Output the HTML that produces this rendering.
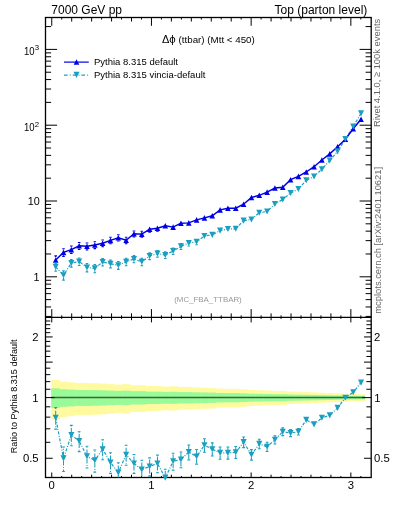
<!DOCTYPE html>
<html><head><meta charset="utf-8"><style>
html,body{margin:0;padding:0;background:#fff;width:393px;height:512px;overflow:hidden}
svg{display:block;will-change:transform}
text{font-family:"Liberation Sans",sans-serif}
</style></head><body>
<svg width="393" height="512" viewBox="0 0 393 512">
<defs><clipPath id="cu"><rect x="45.5" y="17.5" width="325.7" height="299.9"/></clipPath>
<clipPath id="cl"><rect x="45.5" y="317.4" width="325.7" height="160.1"/></clipPath></defs>
<rect x="51.2" y="379.99" width="8.68" height="39.68" fill="#fffaa0"/>
<rect x="59.58" y="381.71" width="8.13" height="35.32" fill="#fffaa0"/>
<rect x="67.41" y="382.3" width="8.13" height="33.85" fill="#fffaa0"/>
<rect x="75.24" y="383.07" width="8.13" height="31.96" fill="#fffaa0"/>
<rect x="83.07" y="382.97" width="8.13" height="32.2" fill="#fffaa0"/>
<rect x="90.9" y="383.23" width="8.13" height="31.58" fill="#fffaa0"/>
<rect x="98.73" y="383.58" width="8.13" height="30.73" fill="#fffaa0"/>
<rect x="106.56" y="384.1" width="8.13" height="29.47" fill="#fffaa0"/>
<rect x="114.39" y="384.57" width="8.13" height="28.35" fill="#fffaa0"/>
<rect x="122.22" y="384.12" width="8.13" height="29.42" fill="#fffaa0"/>
<rect x="130.05" y="385.26" width="8.13" height="26.71" fill="#fffaa0"/>
<rect x="137.88" y="385.21" width="8.13" height="26.83" fill="#fffaa0"/>
<rect x="145.72" y="385.99" width="8.13" height="25" fill="#fffaa0"/>
<rect x="153.55" y="386.15" width="8.13" height="24.63" fill="#fffaa0"/>
<rect x="161.38" y="386.54" width="8.13" height="23.71" fill="#fffaa0"/>
<rect x="169.21" y="386.33" width="8.13" height="24.2" fill="#fffaa0"/>
<rect x="177.04" y="386.91" width="8.13" height="22.87" fill="#fffaa0"/>
<rect x="184.87" y="386.95" width="8.13" height="22.77" fill="#fffaa0"/>
<rect x="192.7" y="387.38" width="8.13" height="21.8" fill="#fffaa0"/>
<rect x="200.53" y="387.65" width="8.13" height="21.18" fill="#fffaa0"/>
<rect x="208.36" y="387.93" width="8.13" height="20.55" fill="#fffaa0"/>
<rect x="216.19" y="388.66" width="8.13" height="18.9" fill="#fffaa0"/>
<rect x="224.02" y="388.86" width="8.13" height="18.45" fill="#fffaa0"/>
<rect x="231.85" y="388.86" width="8.13" height="18.45" fill="#fffaa0"/>
<rect x="239.68" y="389.31" width="8.13" height="17.45" fill="#fffaa0"/>
<rect x="247.51" y="390" width="8.13" height="15.92" fill="#fffaa0"/>
<rect x="255.34" y="390.21" width="8.13" height="15.45" fill="#fffaa0"/>
<rect x="263.17" y="390.51" width="8.13" height="14.8" fill="#fffaa0"/>
<rect x="271" y="390.87" width="8.13" height="14.02" fill="#fffaa0"/>
<rect x="278.83" y="390.94" width="8.13" height="13.88" fill="#fffaa0"/>
<rect x="286.66" y="391.52" width="8.13" height="12.61" fill="#fffaa0"/>
<rect x="294.49" y="391.76" width="8.13" height="12.1" fill="#fffaa0"/>
<rect x="302.32" y="392.05" width="8.13" height="11.47" fill="#fffaa0"/>
<rect x="310.15" y="392.38" width="8.13" height="10.77" fill="#fffaa0"/>
<rect x="317.98" y="392.75" width="8.13" height="9.99" fill="#fffaa0"/>
<rect x="325.81" y="393.05" width="8.13" height="9.36" fill="#fffaa0"/>
<rect x="333.65" y="393.35" width="8.13" height="8.71" fill="#fffaa0"/>
<rect x="341.48" y="393.63" width="8.13" height="8.13" fill="#fffaa0"/>
<rect x="349.31" y="393.95" width="8.13" height="7.45" fill="#fffaa0"/>
<rect x="357.14" y="394.19" width="8.13" height="6.97" fill="#fffaa0"/>
<rect x="51.2" y="388.36" width="8.68" height="19.58" fill="#98fa98"/>
<rect x="59.58" y="389.3" width="8.13" height="17.47" fill="#98fa98"/>
<rect x="67.41" y="389.62" width="8.13" height="16.76" fill="#98fa98"/>
<rect x="75.24" y="390.04" width="8.13" height="15.84" fill="#98fa98"/>
<rect x="83.07" y="389.99" width="8.13" height="15.95" fill="#98fa98"/>
<rect x="90.9" y="390.12" width="8.13" height="15.65" fill="#98fa98"/>
<rect x="98.73" y="390.31" width="8.13" height="15.24" fill="#98fa98"/>
<rect x="106.56" y="390.59" width="8.13" height="14.62" fill="#98fa98"/>
<rect x="114.39" y="390.85" width="8.13" height="14.07" fill="#98fa98"/>
<rect x="122.22" y="390.6" width="8.13" height="14.6" fill="#98fa98"/>
<rect x="130.05" y="391.22" width="8.13" height="13.27" fill="#98fa98"/>
<rect x="137.88" y="391.19" width="8.13" height="13.33" fill="#98fa98"/>
<rect x="145.72" y="391.61" width="8.13" height="12.43" fill="#98fa98"/>
<rect x="153.55" y="391.69" width="8.13" height="12.25" fill="#98fa98"/>
<rect x="161.38" y="391.9" width="8.13" height="11.79" fill="#98fa98"/>
<rect x="169.21" y="391.79" width="8.13" height="12.04" fill="#98fa98"/>
<rect x="177.04" y="392.1" width="8.13" height="11.38" fill="#98fa98"/>
<rect x="184.87" y="392.12" width="8.13" height="11.33" fill="#98fa98"/>
<rect x="192.7" y="392.34" width="8.13" height="10.85" fill="#98fa98"/>
<rect x="200.53" y="392.49" width="8.13" height="10.54" fill="#98fa98"/>
<rect x="208.36" y="392.63" width="8.13" height="10.23" fill="#98fa98"/>
<rect x="216.19" y="393.02" width="8.13" height="9.42" fill="#98fa98"/>
<rect x="224.02" y="393.12" width="8.13" height="9.2" fill="#98fa98"/>
<rect x="231.85" y="393.12" width="8.13" height="9.2" fill="#98fa98"/>
<rect x="239.68" y="393.36" width="8.13" height="8.7" fill="#98fa98"/>
<rect x="247.51" y="393.72" width="8.13" height="7.94" fill="#98fa98"/>
<rect x="255.34" y="393.83" width="8.13" height="7.71" fill="#98fa98"/>
<rect x="263.17" y="393.99" width="8.13" height="7.38" fill="#98fa98"/>
<rect x="271" y="394.17" width="8.13" height="7" fill="#98fa98"/>
<rect x="278.83" y="394.21" width="8.13" height="6.92" fill="#98fa98"/>
<rect x="286.66" y="394.51" width="8.13" height="6.29" fill="#98fa98"/>
<rect x="294.49" y="394.63" width="8.13" height="6.04" fill="#98fa98"/>
<rect x="302.32" y="394.78" width="8.13" height="5.72" fill="#98fa98"/>
<rect x="310.15" y="394.95" width="8.13" height="5.38" fill="#98fa98"/>
<rect x="317.98" y="395.14" width="8.13" height="4.99" fill="#98fa98"/>
<rect x="325.81" y="395.3" width="8.13" height="4.67" fill="#98fa98"/>
<rect x="333.65" y="395.45" width="8.13" height="4.35" fill="#98fa98"/>
<rect x="341.48" y="395.59" width="8.13" height="4.06" fill="#98fa98"/>
<rect x="349.31" y="395.76" width="8.13" height="3.72" fill="#98fa98"/>
<rect x="357.14" y="395.88" width="8.13" height="3.48" fill="#98fa98"/>
<line x1="51.2" y1="397.6" x2="364.97" y2="397.6" stroke="#3b653b" stroke-width="1.5"/>
<rect x="45.5" y="17.5" width="325.7" height="460" fill="none" stroke="#000" stroke-width="1.3"/>
<line x1="45.5" y1="317.4" x2="371.2" y2="317.4" stroke="#000" stroke-width="1.3"/>
<path d="M51.75 17.5L51.75 25.8M51.75 317.4L51.75 309.1M51.75 317.4L51.75 322.4M51.75 477.5L51.75 472.5M61.72 17.5L61.72 19.5M61.72 317.4L61.72 315.4M61.72 317.4L61.72 318.9M61.72 477.5L61.72 476M71.69 17.5L71.69 21.5M71.69 317.4L71.69 313.4M71.69 317.4L71.69 320.2M71.69 477.5L71.69 474.7M81.66 17.5L81.66 19.5M81.66 317.4L81.66 315.4M81.66 317.4L81.66 318.9M81.66 477.5L81.66 476M91.63 17.5L91.63 21.5M91.63 317.4L91.63 313.4M91.63 317.4L91.63 320.2M91.63 477.5L91.63 474.7M101.6 17.5L101.6 19.5M101.6 317.4L101.6 315.4M101.6 317.4L101.6 318.9M101.6 477.5L101.6 476M111.57 17.5L111.57 21.5M111.57 317.4L111.57 313.4M111.57 317.4L111.57 320.2M111.57 477.5L111.57 474.7M121.54 17.5L121.54 19.5M121.54 317.4L121.54 315.4M121.54 317.4L121.54 318.9M121.54 477.5L121.54 476M131.51 17.5L131.51 21.5M131.51 317.4L131.51 313.4M131.51 317.4L131.51 320.2M131.51 477.5L131.51 474.7M141.48 17.5L141.48 19.5M141.48 317.4L141.48 315.4M141.48 317.4L141.48 318.9M141.48 477.5L141.48 476M151.45 17.5L151.45 25.8M151.45 317.4L151.45 309.1M151.45 317.4L151.45 322.4M151.45 477.5L151.45 472.5M161.42 17.5L161.42 19.5M161.42 317.4L161.42 315.4M161.42 317.4L161.42 318.9M161.42 477.5L161.42 476M171.39 17.5L171.39 21.5M171.39 317.4L171.39 313.4M171.39 317.4L171.39 320.2M171.39 477.5L171.39 474.7M181.36 17.5L181.36 19.5M181.36 317.4L181.36 315.4M181.36 317.4L181.36 318.9M181.36 477.5L181.36 476M191.33 17.5L191.33 21.5M191.33 317.4L191.33 313.4M191.33 317.4L191.33 320.2M191.33 477.5L191.33 474.7M201.3 17.5L201.3 19.5M201.3 317.4L201.3 315.4M201.3 317.4L201.3 318.9M201.3 477.5L201.3 476M211.27 17.5L211.27 21.5M211.27 317.4L211.27 313.4M211.27 317.4L211.27 320.2M211.27 477.5L211.27 474.7M221.24 17.5L221.24 19.5M221.24 317.4L221.24 315.4M221.24 317.4L221.24 318.9M221.24 477.5L221.24 476M231.21 17.5L231.21 21.5M231.21 317.4L231.21 313.4M231.21 317.4L231.21 320.2M231.21 477.5L231.21 474.7M241.18 17.5L241.18 19.5M241.18 317.4L241.18 315.4M241.18 317.4L241.18 318.9M241.18 477.5L241.18 476M251.15 17.5L251.15 25.8M251.15 317.4L251.15 309.1M251.15 317.4L251.15 322.4M251.15 477.5L251.15 472.5M261.12 17.5L261.12 19.5M261.12 317.4L261.12 315.4M261.12 317.4L261.12 318.9M261.12 477.5L261.12 476M271.09 17.5L271.09 21.5M271.09 317.4L271.09 313.4M271.09 317.4L271.09 320.2M271.09 477.5L271.09 474.7M281.06 17.5L281.06 19.5M281.06 317.4L281.06 315.4M281.06 317.4L281.06 318.9M281.06 477.5L281.06 476M291.03 17.5L291.03 21.5M291.03 317.4L291.03 313.4M291.03 317.4L291.03 320.2M291.03 477.5L291.03 474.7M301 17.5L301 19.5M301 317.4L301 315.4M301 317.4L301 318.9M301 477.5L301 476M310.97 17.5L310.97 21.5M310.97 317.4L310.97 313.4M310.97 317.4L310.97 320.2M310.97 477.5L310.97 474.7M320.94 17.5L320.94 19.5M320.94 317.4L320.94 315.4M320.94 317.4L320.94 318.9M320.94 477.5L320.94 476M330.91 17.5L330.91 21.5M330.91 317.4L330.91 313.4M330.91 317.4L330.91 320.2M330.91 477.5L330.91 474.7M340.88 17.5L340.88 19.5M340.88 317.4L340.88 315.4M340.88 317.4L340.88 318.9M340.88 477.5L340.88 476M350.85 17.5L350.85 25.8M350.85 317.4L350.85 309.1M350.85 317.4L350.85 322.4M350.85 477.5L350.85 472.5M360.82 17.5L360.82 19.5M360.82 317.4L360.82 315.4M360.82 317.4L360.82 318.9M360.82 477.5L360.82 476M45.5 316.43L51.1 316.43M371.2 316.43L365.6 316.43M45.5 306.96L51.1 306.96M371.2 306.96L365.6 306.96M45.5 299.62L51.1 299.62M371.2 299.62L365.6 299.62M45.5 293.62L51.1 293.62M371.2 293.62L365.6 293.62M45.5 288.54L51.1 288.54M371.2 288.54L365.6 288.54M45.5 284.15L51.1 284.15M371.2 284.15L365.6 284.15M45.5 280.27L51.1 280.27M371.2 280.27L365.6 280.27M45.5 276.8L57.1 276.8M371.2 276.8L359.6 276.8M45.5 253.98L51.1 253.98M371.2 253.98L365.6 253.98M45.5 240.63L51.1 240.63M371.2 240.63L365.6 240.63M45.5 231.16L51.1 231.16M371.2 231.16L365.6 231.16M45.5 223.82L51.1 223.82M371.2 223.82L365.6 223.82M45.5 217.82L51.1 217.82M371.2 217.82L365.6 217.82M45.5 212.74L51.1 212.74M371.2 212.74L365.6 212.74M45.5 208.35L51.1 208.35M371.2 208.35L365.6 208.35M45.5 204.47L51.1 204.47M371.2 204.47L365.6 204.47M45.5 201L57.1 201M371.2 201L359.6 201M45.5 178.18L51.1 178.18M371.2 178.18L365.6 178.18M45.5 164.83L51.1 164.83M371.2 164.83L365.6 164.83M45.5 155.36L51.1 155.36M371.2 155.36L365.6 155.36M45.5 148.02L51.1 148.02M371.2 148.02L365.6 148.02M45.5 142.02L51.1 142.02M371.2 142.02L365.6 142.02M45.5 136.94L51.1 136.94M371.2 136.94L365.6 136.94M45.5 132.55L51.1 132.55M371.2 132.55L365.6 132.55M45.5 128.67L51.1 128.67M371.2 128.67L365.6 128.67M45.5 125.2L57.1 125.2M371.2 125.2L359.6 125.2M45.5 102.38L51.1 102.38M371.2 102.38L365.6 102.38M45.5 89.03L51.1 89.03M371.2 89.03L365.6 89.03M45.5 79.56L51.1 79.56M371.2 79.56L365.6 79.56M45.5 72.22L51.1 72.22M371.2 72.22L365.6 72.22M45.5 66.22L51.1 66.22M371.2 66.22L365.6 66.22M45.5 61.14L51.1 61.14M371.2 61.14L365.6 61.14M45.5 56.75L51.1 56.75M371.2 56.75L365.6 56.75M45.5 52.87L51.1 52.87M371.2 52.87L365.6 52.87M45.5 49.4L57.1 49.4M371.2 49.4L359.6 49.4M45.5 26.58L51.1 26.58M371.2 26.58L365.6 26.58M45.5 458.26L52.7 458.26M371.2 458.26L364 458.26M45.5 442.3L50.3 442.3M371.2 442.3L366.4 442.3M45.5 428.81L50.3 428.81M371.2 428.81L366.4 428.81M45.5 417.13L50.3 417.13M371.2 417.13L366.4 417.13M45.5 406.82L50.3 406.82M371.2 406.82L366.4 406.82M45.5 397.6L54.5 397.6M371.2 397.6L362.2 397.6M45.5 389.26L50.3 389.26M371.2 389.26L366.4 389.26M45.5 381.64L50.3 381.64M371.2 381.64L366.4 381.64M45.5 374.64L50.3 374.64M371.2 374.64L366.4 374.64M45.5 368.16L50.3 368.16M371.2 368.16L366.4 368.16M45.5 362.12L52.7 362.12M371.2 362.12L364 362.12M45.5 356.47L50.3 356.47M371.2 356.47L366.4 356.47M45.5 351.16L50.3 351.16M371.2 351.16L366.4 351.16M45.5 346.16L50.3 346.16M371.2 346.16L366.4 346.16M45.5 341.43L50.3 341.43M371.2 341.43L366.4 341.43M45.5 336.94L52.7 336.94M371.2 336.94L364 336.94M45.5 332.67L50.3 332.67M371.2 332.67L366.4 332.67M45.5 328.6L50.3 328.6M371.2 328.6L366.4 328.6M45.5 324.71L50.3 324.71M371.2 324.71L366.4 324.71M45.5 320.99L50.3 320.99M371.2 320.99L366.4 320.99" stroke="#000" stroke-width="1" fill="none"/>
<polyline points="55.67,266.9 63.5,275.2 71.33,263.1 79.16,261.6 86.99,267.5 94.82,268.4 102.65,262 110.48,263.8 118.31,265.2 126.14,261.8 133.97,259 141.8,261.8 149.63,256 157.46,253.6 165.29,255 173.12,251 180.95,246.4 188.78,243 196.61,241.8 204.44,236 212.27,234.9 220.1,230.6 227.93,229 235.76,228.7 243.6,220.6 251.43,219.5 259.26,212.7 267.09,211.5 274.92,204 282.75,199.5 290.58,193 298.41,189 306.24,180.3 314.07,176.5 321.9,169.2 329.73,160.5 337.56,151.4 345.39,139.1 353.22,126.5 361.05,113.4" fill="none" stroke="#1a9fc0" stroke-width="1.2" stroke-dasharray="3 1.5 1 1.5"/>
<polyline points="55.67,260 63.5,252.4 71.33,249.6 79.16,245.8 86.99,246.3 94.82,245 102.65,243.2 110.48,240.4 118.31,237.8 126.14,240.3 133.97,233.8 141.8,234.1 149.63,229.3 157.46,228.3 165.29,225.7 173.12,227.1 180.95,223.2 188.78,222.9 196.61,219.9 204.44,217.9 212.27,215.8 220.1,209.9 227.93,208.2 235.76,208.2 243.6,204.2 251.43,197.5 259.26,195.3 267.09,192.1 274.92,188 282.75,187.2 290.58,179.7 298.41,176.4 306.24,172 314.07,166.7 321.9,160 329.73,153.9 337.56,146.8 345.39,139.3 353.22,128.8 361.05,119.3" fill="none" stroke="#0000e6" stroke-width="1.45"/>
<path d="M55.67 255.9V257.2M54.37 255.9H56.97M55.67 262.8V264.68M54.37 264.68H56.97M63.5 248.72V249.6M62.2 248.72H64.8M63.5 255.2V256.54M62.2 256.54H64.8M71.33 246.07V246.8M70.03 246.07H72.63M71.33 252.4V253.56M70.03 253.56H72.63M79.16 242.46V243M77.86 242.46H80.46M79.16 248.6V249.52M77.86 249.52H80.46M86.99 242.93V243.5M85.69 242.93H88.29M86.99 249.1V250.05M85.69 250.05H88.29M94.82 241.69V242.2M93.52 241.69H96.12M94.82 247.8V248.67M93.52 248.67H96.12M102.65 239.98V240.4M101.35 239.98H103.95M102.65 246V246.77M101.35 246.77H103.95M110.48 237.31V237.6M109.18 237.31H111.78M110.48 243.2V243.81M109.18 243.81H111.78M118.31 234.82V235M117.01 234.82H119.61M118.31 240.6V241.07M117.01 241.07H119.61M126.14 237.21V237.5M124.84 237.21H127.44M126.14 243.1V243.71M124.84 243.71H127.44M133.97 230.99V231M132.67 230.99H135.27M133.97 236.6V236.87M132.67 236.87H135.27M141.8 231.28V231.3M140.5 231.28H143.1M141.8 236.9V237.19M140.5 237.19H143.1M149.63 232.1V232.16M148.33 232.16H150.93M157.46 231.1V231.12M156.16 231.12H158.76" stroke="#0000e6" stroke-width="1.1" fill="none"/>
<path d="M55.67 257.2L58.47 262.8L52.87 262.8ZM63.5 249.6L66.3 255.2L60.7 255.2ZM71.33 246.8L74.13 252.4L68.53 252.4ZM79.16 243L81.96 248.6L76.36 248.6ZM86.99 243.5L89.79 249.1L84.19 249.1ZM94.82 242.2L97.62 247.8L92.02 247.8ZM102.65 240.4L105.45 246L99.85 246ZM110.48 237.6L113.28 243.2L107.68 243.2ZM118.31 235L121.11 240.6L115.51 240.6ZM126.14 237.5L128.94 243.1L123.34 243.1ZM133.97 231L136.77 236.6L131.17 236.6ZM141.8 231.3L144.6 236.9L139 236.9ZM149.63 226.5L152.43 232.1L146.83 232.1ZM157.46 225.5L160.26 231.1L154.66 231.1ZM165.29 222.9L168.09 228.5L162.49 228.5ZM173.12 224.3L175.92 229.9L170.32 229.9ZM180.95 220.4L183.75 226L178.15 226ZM188.78 220.1L191.58 225.7L185.98 225.7ZM196.61 217.1L199.41 222.7L193.81 222.7ZM204.44 215.1L207.24 220.7L201.64 220.7ZM212.27 213L215.07 218.6L209.47 218.6ZM220.1 207.1L222.9 212.7L217.3 212.7ZM227.93 205.4L230.73 211L225.13 211ZM235.76 205.4L238.56 211L232.96 211ZM243.6 201.4L246.4 207L240.8 207ZM251.43 194.7L254.23 200.3L248.63 200.3ZM259.26 192.5L262.06 198.1L256.46 198.1ZM267.09 189.3L269.89 194.9L264.29 194.9ZM274.92 185.2L277.72 190.8L272.12 190.8ZM282.75 184.4L285.55 190L279.95 190ZM290.58 176.9L293.38 182.5L287.78 182.5ZM298.41 173.6L301.21 179.2L295.61 179.2ZM306.24 169.2L309.04 174.8L303.44 174.8ZM314.07 163.9L316.87 169.5L311.27 169.5ZM321.9 157.2L324.7 162.8L319.1 162.8ZM329.73 151.1L332.53 156.7L326.93 156.7ZM337.56 144L340.36 149.6L334.76 149.6ZM345.39 136.5L348.19 142.1L342.59 142.1ZM353.22 126L356.02 131.6L350.42 131.6ZM361.05 116.5L363.85 122.1L358.25 122.1Z" fill="#0000e6"/>
<path d="M55.67 263.09V264.1M54.37 263.09H56.97M55.67 269.7V271.21M54.37 271.21H56.97M63.5 270.91V272.4M62.2 270.91H64.8M63.5 278V280.13M62.2 280.13H64.8M71.33 259.49V260.3M70.03 259.49H72.63M71.33 265.9V267.15M70.03 267.15H72.63M79.16 258.07V258.8M77.86 258.07H80.46M79.16 264.4V265.56M77.86 265.56H80.46M86.99 263.66V264.7M85.69 263.66H88.29M86.99 270.3V271.85M85.69 271.85H88.29M94.82 264.51V265.6M93.52 264.51H96.12M94.82 271.2V272.82M93.52 272.82H96.12M102.65 258.45V259.2M101.35 258.45H103.95M102.65 264.8V265.98M101.35 265.98H103.95M110.48 260.16V261M109.18 260.16H111.78M110.48 266.6V267.9M109.18 267.9H111.78M118.31 261.48V262.4M117.01 261.48H119.61M118.31 268V269.39M117.01 269.39H119.61M126.14 258.26V259M124.84 258.26H127.44M126.14 264.6V265.77M124.84 265.77H127.44M133.97 255.6V256.2M132.67 255.6H135.27M133.97 261.8V262.79M132.67 262.79H135.27M141.8 258.26V259M140.5 258.26H143.1M141.8 264.6V265.77M140.5 265.77H143.1M149.63 252.74V253.2M148.33 252.74H150.93M149.63 258.8V259.62M148.33 259.62H150.93M157.46 250.45V250.8M156.16 250.45H158.76M157.46 256.4V257.08M156.16 257.08H158.76M165.29 251.79V252.2M163.99 251.79H166.59M165.29 257.8V258.56M163.99 258.56H166.59M173.12 247.97V248.2M171.82 247.97H174.42M173.12 253.8V254.34M171.82 254.34H174.42M180.95 243.57V243.6M179.65 243.57H182.25M180.95 249.2V249.5M179.65 249.5H182.25M188.78 245.8V245.94M187.48 245.94H190.08M196.61 244.6V244.68M195.31 244.68H197.91" stroke="#1a9fc0" stroke-width="1.1" fill="none"/>
<path d="M55.67 269.95L58.72 263.85L52.62 263.85ZM63.5 278.25L66.55 272.15L60.45 272.15ZM71.33 266.15L74.38 260.05L68.28 260.05ZM79.16 264.65L82.21 258.55L76.11 258.55ZM86.99 270.55L90.04 264.45L83.94 264.45ZM94.82 271.45L97.87 265.35L91.77 265.35ZM102.65 265.05L105.7 258.95L99.6 258.95ZM110.48 266.85L113.53 260.75L107.43 260.75ZM118.31 268.25L121.36 262.15L115.26 262.15ZM126.14 264.85L129.19 258.75L123.09 258.75ZM133.97 262.05L137.02 255.95L130.92 255.95ZM141.8 264.85L144.85 258.75L138.75 258.75ZM149.63 259.05L152.68 252.95L146.58 252.95ZM157.46 256.65L160.51 250.55L154.41 250.55ZM165.29 258.05L168.34 251.95L162.24 251.95ZM173.12 254.05L176.17 247.95L170.07 247.95ZM180.95 249.45L184 243.35L177.9 243.35ZM188.78 246.05L191.83 239.95L185.73 239.95ZM196.61 244.85L199.66 238.75L193.56 238.75ZM204.44 239.05L207.49 232.95L201.39 232.95ZM212.27 237.95L215.32 231.85L209.22 231.85ZM220.1 233.65L223.15 227.55L217.05 227.55ZM227.93 232.05L230.98 225.95L224.88 225.95ZM235.76 231.75L238.81 225.65L232.71 225.65ZM243.6 223.65L246.65 217.55L240.55 217.55ZM251.43 222.55L254.48 216.45L248.38 216.45ZM259.26 215.75L262.31 209.65L256.21 209.65ZM267.09 214.55L270.14 208.45L264.04 208.45ZM274.92 207.05L277.97 200.95L271.87 200.95ZM282.75 202.55L285.8 196.45L279.7 196.45ZM290.58 196.05L293.63 189.95L287.53 189.95ZM298.41 192.05L301.46 185.95L295.36 185.95ZM306.24 183.35L309.29 177.25L303.19 177.25ZM314.07 179.55L317.12 173.45L311.02 173.45ZM321.9 172.25L324.95 166.15L318.85 166.15ZM329.73 163.55L332.78 157.45L326.68 157.45ZM337.56 154.45L340.61 148.35L334.51 148.35ZM345.39 142.15L348.44 136.05L342.34 136.05ZM353.22 129.55L356.27 123.45L350.17 123.45ZM361.05 116.45L364.1 110.35L358 110.35Z" fill="#1a9fc0"/>
<g clip-path="url(#cl)">
<polyline points="55.67,417.7 63.5,458.4 71.33,435 79.16,441.1 86.99,456.4 94.82,460.4 102.65,449.2 110.48,462.5 118.31,472.6 126.14,454.7 133.97,463.5 141.8,469.6 149.63,466.5 157.46,463.5 165.29,477.7 173.12,461.3 180.95,459.5 188.78,452.1 196.61,456.5 204.44,445.2 212.27,449.2 220.1,452.9 227.93,452.9 235.76,452.3 243.6,442.1 251.43,454.7 259.26,443.9 267.09,446.8 274.92,439.8 282.75,431.7 290.58,433.1 298.41,431.7 306.24,419.9 314.07,424.4 321.9,417.8 329.73,415.4 337.56,407.9 345.39,397.7 353.22,392.3 361.05,382.6" fill="none" stroke="#1a9fc0" stroke-width="1.2" stroke-dasharray="3 1.5 1 1.5"/>
<path d="M55.67 415.2V407.58M55.67 420.2V429.14M63.5 455.9V447.01M63.5 460.9V471.5M71.33 432.5V425.42M71.33 437.5V445.76M79.16 438.6V431.73M79.16 443.6V451.6M86.99 453.9V446.2M86.99 458.9V467.95M94.82 457.9V450.06M94.82 462.9V472.12M102.65 446.7V439.77M102.65 451.7V459.77M110.48 460V452.82M110.48 465V473.38M118.31 470.1V462.73M118.31 475.1V483.73M126.14 452.2V445.3M126.14 457.2V465.23M133.97 461V454.47M133.97 466V473.57M141.8 467.1V460.2M141.8 472.1V480.13M149.63 464V457.85M149.63 469V476.1M157.46 461V455.15M157.46 466V472.74M165.29 475.2V469.18M165.29 480.2V487.14M173.12 458.8V453.26M173.12 463.8V470.16M180.95 457V451.98M180.95 462V467.73M188.78 449.6V444.94M188.78 454.6V459.9M196.61 454V449.46M196.61 459V464.15M204.44 442.7V438.73M204.44 447.7V452.18M212.27 446.7V442.84M212.27 451.7V456.06M220.1 450.4V446.93M220.1 455.4V459.31M227.93 450.4V447.06M227.93 455.4V459.15M235.76 449.8V446.49M235.76 454.8V458.52M243.6 439.6V436.94M243.6 444.6V447.58M251.43 452.2V449.62M251.43 457.2V460.09M259.26 441.4V439.31M259.26 446.4V448.74M267.09 444.3V442.29M267.09 449.3V451.55M274.92 437.3V435.76M274.92 442.3V444.03M282.75 429.2V427.92M282.75 434.2V435.65M290.58 430.6V429.67M290.58 435.6V436.67M298.41 429.2V428.47M298.41 434.2V435.05" stroke="#1a9fc0" stroke-width="1.05" stroke-dasharray="4.5 1.6 1 1.6" fill="none"/>
<path d="M54.27 407.58H57.07M54.27 429.14H57.07M62.1 447.01H64.9M62.1 471.5H64.9M69.93 425.42H72.73M69.93 445.76H72.73M77.76 431.73H80.56M77.76 451.6H80.56M85.59 446.2H88.39M85.59 467.95H88.39M93.42 450.06H96.22M93.42 472.12H96.22M101.25 439.77H104.05M101.25 459.77H104.05M109.08 452.82H111.88M109.08 473.38H111.88M116.91 462.73H119.71M116.91 483.73H119.71M124.74 445.3H127.54M124.74 465.23H127.54M132.57 454.47H135.37M132.57 473.57H135.37M140.4 460.2H143.2M140.4 480.13H143.2M148.23 457.85H151.03M148.23 476.1H151.03M156.06 455.15H158.86M156.06 472.74H158.86M163.89 469.18H166.69M163.89 487.14H166.69M171.72 453.26H174.52M171.72 470.16H174.52M179.55 451.98H182.35M179.55 467.73H182.35M187.38 444.94H190.18M187.38 459.9H190.18M195.21 449.46H198.01M195.21 464.15H198.01M203.04 438.73H205.84M203.04 452.18H205.84M210.87 442.84H213.67M210.87 456.06H213.67M218.7 446.93H221.5M218.7 459.31H221.5M226.53 447.06H229.33M226.53 459.15H229.33M234.36 446.49H237.16M234.36 458.52H237.16M242.2 436.94H245M242.2 447.58H245M250.03 449.62H252.83M250.03 460.09H252.83M257.86 439.31H260.66M257.86 448.74H260.66M265.69 442.29H268.49M265.69 451.55H268.49M273.52 435.76H276.32M273.52 444.03H276.32M281.35 427.92H284.15M281.35 435.65H284.15M289.18 429.67H291.98M289.18 436.67H291.98M297.01 428.47H299.81M297.01 435.05H299.81" stroke="#1a9fc0" stroke-width="1.1" fill="none"/>
</g>
<path d="M55.67 420.75L58.72 414.65L52.62 414.65ZM63.5 461.45L66.55 455.35L60.45 455.35ZM71.33 438.05L74.38 431.95L68.28 431.95ZM79.16 444.15L82.21 438.05L76.11 438.05ZM86.99 459.45L90.04 453.35L83.94 453.35ZM94.82 463.45L97.87 457.35L91.77 457.35ZM102.65 452.25L105.7 446.15L99.6 446.15ZM110.48 465.55L113.53 459.45L107.43 459.45ZM118.31 475.65L121.36 469.55L115.26 469.55ZM126.14 457.75L129.19 451.65L123.09 451.65ZM133.97 466.55L137.02 460.45L130.92 460.45ZM141.8 472.65L144.85 466.55L138.75 466.55ZM149.63 469.55L152.68 463.45L146.58 463.45ZM157.46 466.55L160.51 460.45L154.41 460.45ZM165.29 480.75L168.34 474.65L162.24 474.65ZM173.12 464.35L176.17 458.25L170.07 458.25ZM180.95 462.55L184 456.45L177.9 456.45ZM188.78 455.15L191.83 449.05L185.73 449.05ZM196.61 459.55L199.66 453.45L193.56 453.45ZM204.44 448.25L207.49 442.15L201.39 442.15ZM212.27 452.25L215.32 446.15L209.22 446.15ZM220.1 455.95L223.15 449.85L217.05 449.85ZM227.93 455.95L230.98 449.85L224.88 449.85ZM235.76 455.35L238.81 449.25L232.71 449.25ZM243.6 445.15L246.65 439.05L240.55 439.05ZM251.43 457.75L254.48 451.65L248.38 451.65ZM259.26 446.95L262.31 440.85L256.21 440.85ZM267.09 449.85L270.14 443.75L264.04 443.75ZM274.92 442.85L277.97 436.75L271.87 436.75ZM282.75 434.75L285.8 428.65L279.7 428.65ZM290.58 436.15L293.63 430.05L287.53 430.05ZM298.41 434.75L301.46 428.65L295.36 428.65ZM306.24 422.95L309.29 416.85L303.19 416.85ZM314.07 427.45L317.12 421.35L311.02 421.35ZM321.9 420.85L324.95 414.75L318.85 414.75ZM329.73 418.45L332.78 412.35L326.68 412.35ZM337.56 410.95L340.61 404.85L334.51 404.85ZM345.39 400.75L348.44 394.65L342.34 394.65ZM353.22 395.35L356.27 389.25L350.17 389.25ZM361.05 385.65L364.1 379.55L358 379.55Z" fill="#1a9fc0"/>
<line x1="64" y1="62.1" x2="88.8" y2="62.1" stroke="#0000e6" stroke-width="1.2"/>
<path d="M76.5 59.2L79.3 64.8L73.7 64.8Z" fill="#0000e6"/>
<line x1="64" y1="75.1" x2="88.8" y2="75.1" stroke="#1a9fc0" stroke-width="1.1" stroke-dasharray="3.6 2.2 0.9 2.0"/>
<path d="M76.5 77.95L79.55 71.85L73.45 71.85Z" fill="#1a9fc0"/>

<text x="51.3" y="13.7" font-size="12">7000 GeV pp</text>
<text x="367.3" y="13.7" font-size="12" text-anchor="end">Top (parton level)</text>
<text x="162" y="43.1" font-size="9.78"><tspan font-size="11">&#916;</tspan><tspan font-size="11.5">&#981;</tspan> (ttbar) (Mtt &lt; 450)</text>
<text x="94" y="65.1" font-size="9.5">Pythia 8.315 default</text>
<text x="94" y="77.7" font-size="9.5">Pythia 8.315 vincia-default</text>
<text x="208" y="301.5" font-size="7.9" fill="#999" text-anchor="middle">(MC_FBA_TTBAR)</text>
<text x="380.3" y="127.1" font-size="9.8" fill="#666" textLength="108.3" lengthAdjust="spacingAndGlyphs" transform="rotate(-90 380.3 127.1)">Rivet 4.1.0, &#8805; 100k events</text>
<text x="380.8" y="313.7" font-size="9.8" fill="#666" textLength="146.8" lengthAdjust="spacingAndGlyphs" transform="rotate(-90 380.8 313.7)">mcplots.cern.ch [arXiv:2401.10621]</text>
<text x="17.1" y="453.2" font-size="9.5" textLength="113.8" lengthAdjust="spacingAndGlyphs" transform="rotate(-90 17.1 453.2)">Ratio to Pythia 8.315 default</text>
<text x="34.6" y="54.8" font-size="10.8" text-anchor="end" textLength="10.6" lengthAdjust="spacingAndGlyphs">10</text><text x="34.7" y="50.4" font-size="7.8">3</text>
<text x="34.6" y="130.9" font-size="10.8" text-anchor="end" textLength="10.6" lengthAdjust="spacingAndGlyphs">10</text><text x="34.7" y="126.5" font-size="7.8">2</text>
<text x="39.8" y="205" font-size="10.8" text-anchor="end">10</text>
<text x="39.4" y="281" font-size="10.8" text-anchor="end">1</text>
<text x="38.6" y="340.9" font-size="11.3" text-anchor="end">2</text>
<text x="38.6" y="401.5" font-size="11.3" text-anchor="end">1</text>
<text x="38.6" y="461.9" font-size="11.3" text-anchor="end">0.5</text>
<text x="374" y="340.8" font-size="11.3">2</text>
<text x="374.3" y="402.3" font-size="11.3">1</text>
<text x="374" y="461.8" font-size="11.3">0.5</text>
<text x="51.75" y="489" font-size="11.3" text-anchor="middle">0</text>
<text x="151.45" y="489" font-size="11.3" text-anchor="middle">1</text>
<text x="251.15" y="489" font-size="11.3" text-anchor="middle">2</text>
<text x="350.85" y="489" font-size="11.3" text-anchor="middle">3</text>

</svg>
</body></html>
